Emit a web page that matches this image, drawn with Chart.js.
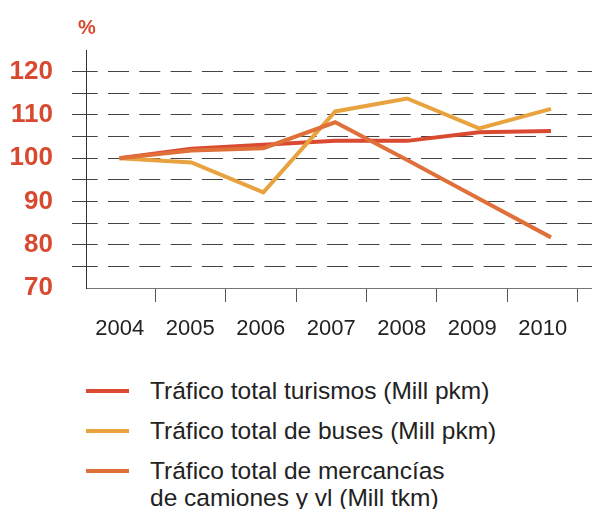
<!DOCTYPE html>
<html>
<head>
<meta charset="utf-8">
<script src="https://cdn.jsdelivr.net/npm/chart.js@4"></script>
<style>
  html, body { margin: 0; padding: 0; background: #fff; }
  #wrap { position: relative; width: 592px; height: 509px; overflow: hidden; }
  #box { position: absolute; left: 0; top: 0; width: 592px; height: 350px; }
  #unit { position: absolute; left: 70px; top: 16px; width: 34px; text-align: center;
          font: bold 20px "Liberation Sans", sans-serif; color: #d84a30; }
  #legend { position: absolute; left: 86px; top: 377px; }
  .item { display: flex; align-items: flex-start; margin-bottom: 13px; }
  .swatch { width: 43px; height: 4px; margin-top: 12px; margin-right: 21px; flex: none; }
  .text { font: 24.5px "Liberation Sans", sans-serif; color: #222; line-height: 27px; white-space: nowrap; }
</style>
</head>
<body>
<div id="wrap">
  <div id="box"><canvas id="chart"></canvas></div>
  <div id="unit">%</div>
  <div id="legend"></div>
</div>
<script>
const years = ['2004', '2005', '2006', '2007', '2008', '2009', '2010'];
const turismos = [100, 102.2, 103.1, 104, 104, 106, 106.3];
const buses = [100, 99, 92.1, 110.8, 113.8, 106.9, 111.4];
const mercancias = [100, 101.8, 102.3, 108.3, 99.6, 90.6, 81.7];
const yLabels = [70, 80, 90, 100, 110, 120];

const names = [
    ['Tráfico total turismos (Mill pkm)'],
    ['Tráfico total de buses (Mill pkm)'],
    ['Tráfico total de mercancías', 'de camiones y vl (Mill tkm)']
];
const colors = ['#d94a30', '#e8a33f', '#e0703a'];

function points(values) {
    return values.map((v, i) => ({ x: parseInt(years[i]), y: v }));
}

const ctx = document.getElementById('chart').getContext('2d');
const chart = new Chart(ctx, {
    type: 'line',
    data: {
        datasets: [
            { label: names[0].join(' '), data: points(turismos), borderColor: colors[0], order: 2 },
            { label: names[1].join(' '), data: points(buses), borderColor: colors[1], order: 1 },
            { label: names[2].join(' '), data: points(mercancias), borderColor: colors[2], order: 0 }
        ]
    },
    options: {
        responsive: true,
        maintainAspectRatio: false,
        animation: false,
        layout: { padding: { top: 50, left: 0, right: 0, bottom: 0 } },
        elements: {
            line: { borderWidth: 4, tension: 0, fill: false, borderCapStyle: 'butt' },
            point: { radius: 0 }
        },
        plugins: { legend: { display: false }, tooltip: { enabled: false } },
        scales: {
            x: { type: 'linear', display: false, min: 2003.534, max: 2010.57 },
            xLabels: {
                type: 'linear',
                position: 'bottom',
                min: 2003.52,
                max: 2010.7,
                afterBuildTicks: (scale) => {
                    scale.ticks = years.flatMap(y => [{ value: +y }, { value: +y + 0.5 }]);
                },
                afterFit: (scale) => { scale.height = 62; },
                border: { display: true, color: '#777', width: 1 },
                grid: {
                    drawOnChartArea: false,
                    drawTicks: true,
                    tickLength: 14,
                    color: (c) => (c.tick && c.tick.value % 1 !== 0) ? '#555' : 'rgba(0,0,0,0)'
                },
                ticks: {
                    autoSkip: false,
                    maxRotation: 0,
                    padding: 14,
                    color: '#222',
                    font: { family: '"Liberation Sans", sans-serif', size: 22 },
                    callback: (v) => (v % 1 === 0) ? String(v) : ''
                }
            },
            y: {
                min: 70,
                max: 125,
                afterBuildTicks: (scale) => {
                    scale.ticks = yLabels.flatMap(v => [{ value: v }, { value: v + 5 }]);
                },
                afterFit: (scale) => { scale.width = 86; },
                border: { display: true, color: '#333', width: 1, dash: [21, 10.3], dashOffset: 10.3 },
                grid: {
                    drawTicks: true,
                    tickLength: 14,
                    lineWidth: 1,
                    tickBorderDash: [],
                    color: (c) => (c.tick && c.tick.value > 70 && c.tick.value <= 120) ? '#444' : 'rgba(0,0,0,0)'
                },
                ticks: {
                    autoSkip: false,
                    padding: 19,
                    color: '#d84a30',
                    font: { family: '"Liberation Sans", sans-serif', size: 26, weight: 'bold' },
                    callback: (v) => yLabels.includes(v) ? String(v) : ''
                }
            }
        }
    }
});

const legend = document.getElementById('legend');
names.forEach((lines, i) => {
    const item = document.createElement('div');
    item.className = 'item';
    const sw = document.createElement('div');
    sw.className = 'swatch';
    sw.style.background = colors[i];
    const tx = document.createElement('div');
    tx.className = 'text';
    tx.innerHTML = lines.join('<br>');
    item.appendChild(sw);
    item.appendChild(tx);
    legend.appendChild(item);
});
</script>
</body>
</html>
